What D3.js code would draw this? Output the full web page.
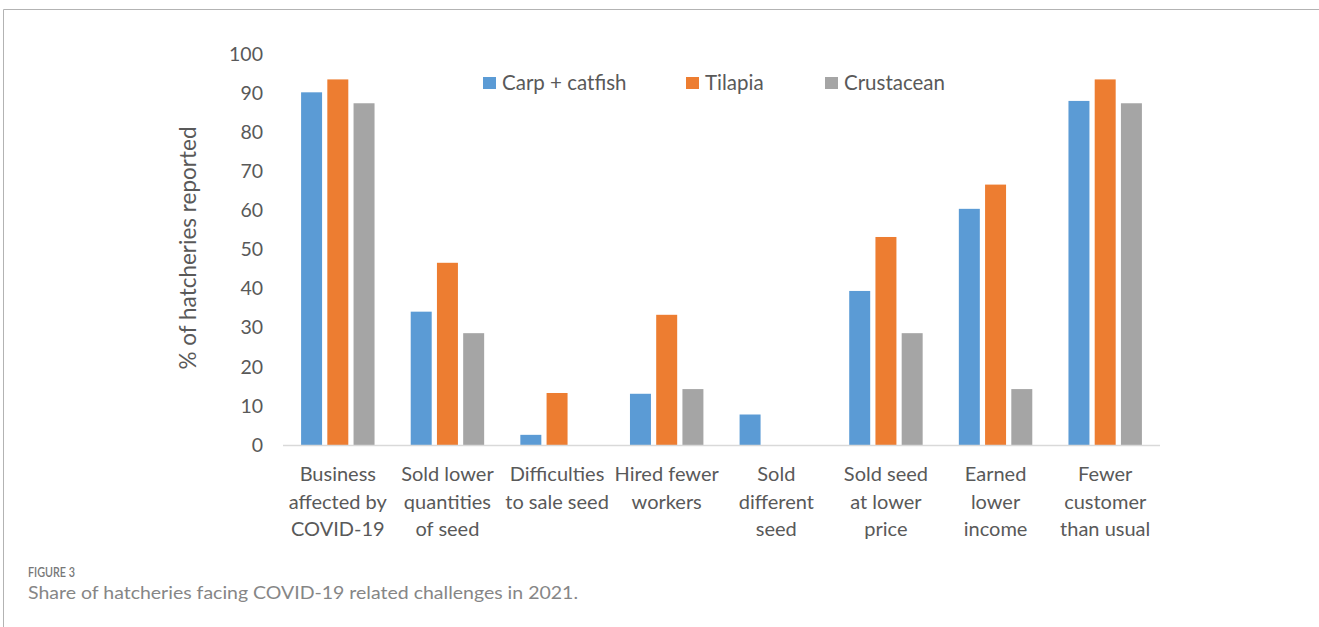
<!DOCTYPE html>
<html><head><meta charset="utf-8">
<script src="https://cdn.jsdelivr.net/npm/d3@7"></script>
<style>body{margin:0;background:#fff;}svg{display:block;font-family:Lato,"Open Sans",sans-serif;}</style>
</head><body>
<svg id="c" width="1319" height="627"></svg>
<script>
const categories = [
  ["Business","affected by","COVID-19"],
  ["Sold lower","quantities","of seed"],
  ["Difficulties","to sale seed"],
  ["Hired fewer","workers"],
  ["Sold","different","seed"],
  ["Sold seed","at lower","price"],
  ["Earned","lower","income"],
  ["Fewer","customer","than usual"]
];
const seriesNames = ["Carp + catfish","Tilapia","Crustacean"];
const seriesColors = ["#5b9bd5","#ed7d31","#a5a5a5"];
const carpCatfish = [90.2, 34.1, 2.6, 13.1, 7.8, 39.4, 60.4, 88.0];
const tilapia     = [93.5, 46.6, 13.3, 33.3, 0, 53.2, 66.6, 93.5];
const crustacean  = [87.4, 28.6, 0, 14.3, 0, 28.6, 14.3, 87.4];
const yTicks = [0,10,20,30,40,50,60,70,80,90,100];
const series = [carpCatfish, tilapia, crustacean];

const svg = d3.select("#c");
// frame
svg.append("line").attr("x1",3.5).attr("x2",1319).attr("y1",9.5).attr("y2",9.5).attr("stroke","#b3b3b3");
svg.append("line").attr("x1",3.5).attr("x2",3.5).attr("y1",9.5).attr("y2",627).attr("stroke","#b3b3b3");

const x0 = d3.scaleBand().domain(d3.range(categories.length)).range([283,1160]).paddingInner(0.33).paddingOuter(0.165);
const x1 = d3.scaleBand().domain(d3.range(3)).range([0,x0.bandwidth()]).paddingInner(0.2);
const y = d3.scaleLinear().domain([0,100]).range([445,54]);

// bars
series.forEach((vals,si)=>{
  svg.append("g").selectAll("rect").data(vals).join("rect")
    .attr("x",(d,i)=>x0(i)+x1(si))
    .attr("width",x1.bandwidth())
    .attr("y",d=>y(d))
    .attr("height",d=>y(0)-y(d))
    .attr("fill",seriesColors[si]);
});

// x axis line
svg.append("line").attr("x1",283).attr("x2",1160).attr("y1",445.5).attr("y2",445.5).attr("stroke","#d9d9d9").attr("stroke-width",1.5);

// y axis
const yAxis = d3.axisLeft(y).tickValues(yTicks).tickSize(0).tickPadding(0);
const gy = svg.append("g").attr("transform","translate(263,0)").call(yAxis);
gy.select(".domain").remove();
gy.selectAll("text").attr("font-size",19.5).attr("fill","#595959").attr("font-family","Lato,sans-serif");

// x labels
categories.forEach((lines,i)=>{
  const cx = x0(i)+x0.bandwidth()/2;
  lines.forEach((t,li)=>{
    svg.append("text").attr("x",cx).attr("y",481+li*27.5).attr("text-anchor","middle")
      .attr("font-size",20).attr("fill","#595959").text(t);
  });
});

// y title
svg.append("text").attr("transform","translate(196,248) rotate(-90)").attr("text-anchor","middle")
  .attr("font-size",22.5).attr("fill","#595959").text("% of hatcheries reported");

// legend
const legX = [483,686,825];
seriesNames.forEach((n,i)=>{
  svg.append("rect").attr("x",legX[i]).attr("y",77).attr("width",13).attr("height",12).attr("fill",seriesColors[i]);
  svg.append("text").attr("x",legX[i]+19).attr("y",89.5).attr("font-size",20.5).attr("fill","#595959").text(n);
});

// caption
svg.append("text").attr("x",28).attr("y",577).attr("font-size",13.5).attr("fill","#777").attr("font-weight","600")
  .attr("textLength",47).attr("lengthAdjust","spacingAndGlyphs").text("FIGURE 3");
svg.append("text").attr("x",28).attr("y",598.5).attr("font-size",18).attr("fill","#868686")
  .attr("textLength",550).attr("lengthAdjust","spacingAndGlyphs")
  .text("Share of hatcheries facing COVID-19 related challenges in 2021.");
</script>
</body></html>
